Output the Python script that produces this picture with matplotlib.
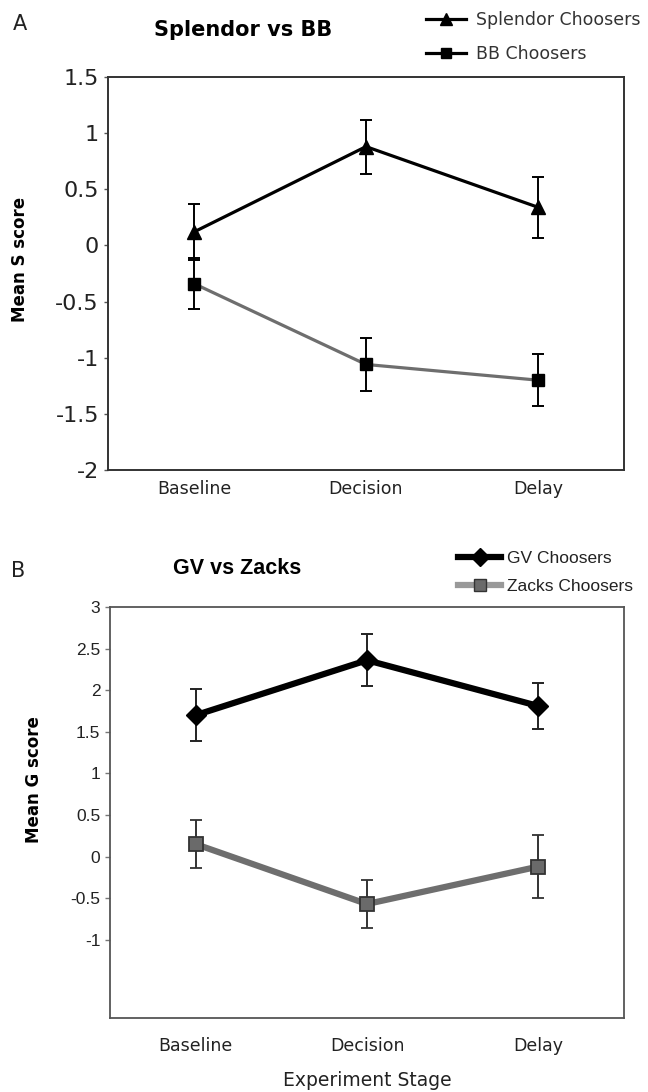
import numpy as np
import matplotlib
matplotlib.use("Agg")
from matplotlib import pyplot as plt
from matplotlib.lines import Line2D

stages = ["Baseline", "Decision", "Delay"]

# panel A: Splendor vs BB
splendor_mean = [0.12, 0.88, 0.34]
splendor_err = [0.25, 0.24, 0.27]
bb_mean = [-0.34, -1.06, -1.20]
bb_err = [0.23, 0.24, 0.23]
a_yticks = [1.5, 1, 0.5, 0, -0.5, -1, -1.5, -2]

# panel B: GV vs Zacks
gv_mean = [1.70, 2.36, 1.81]
gv_err = [0.31, 0.31, 0.28]
zacks_mean = [0.15, -0.57, -0.12]
zacks_err = [0.29, 0.29, 0.38]
b_yticks = [3, 2.5, 2, 1.5, 1, 0.5, 0, -0.5, -1]

W, H = 648.0, 1092.0
fig = plt.figure(figsize=(W / 100, H / 100), dpi=100)
x = np.arange(len(stages))

def fx(px):
    return px / W

def fy(py):
    return 1 - py / H

# ---- panel A ----
axA = fig.add_axes([fx(108), fy(470), fx(624) - fx(108), fy(77) - fy(470)])
axA.errorbar(x, splendor_mean, yerr=splendor_err, color="black", lw=2.3,
             marker="^", ms=10, ecolor="black", elinewidth=1.4, capsize=4, capthick=1.4, zorder=3)
axA.errorbar(x, bb_mean, yerr=bb_err, color="#6e6e6e", lw=2.3,
             marker="s", ms=9, mfc="black", mec="black", ecolor="black",
             elinewidth=1.4, capsize=4, capthick=1.4, zorder=3)
axA.set_xlim(-0.5, 2.5)
axA.set_ylim(-2, 1.5)
axA.set_yticks(a_yticks)
axA.set_yticklabels([("%g" % v) for v in a_yticks], fontsize=16, family="DejaVu Sans", color="#222222")
axA.tick_params(axis="y", length=3, width=1, pad=3.5, color="#555555")
axA.tick_params(axis="x", length=0, pad=7)
axA.set_xticks(x)
axA.set_xticklabels(stages, fontsize=12.5, family="DejaVu Sans", color="#222222")
for s in axA.spines.values():
    s.set_linewidth(1.4)
    s.set_color("#333333")

fig.text(fx(20), fy(259), "Mean S score", fontsize=12, fontweight="bold", rotation=90,
         ha="center", va="center")
fig.text(fx(20), fy(24), "A", fontsize=15, ha="center", va="center", color="#222222")
fig.text(fx(243), fy(30), "Splendor vs BB", fontsize=15, fontweight="bold", ha="center", va="center")

handlesA = [Line2D([], [], color="black", lw=2.3, marker="^", ms=9),
            Line2D([], [], color="black", lw=2.3, marker="s", ms=7)]
fig.legend(handlesA, ["Splendor Choosers", "BB Choosers"], loc="upper left",
           bbox_to_anchor=(fx(426), fy(11)), frameon=False, fontsize=12.5,
           borderpad=0, borderaxespad=0, handlelength=2.3, handletextpad=0.6,
           labelspacing=0.95, labelcolor="#333333")

# ---- panel B ----
axB = fig.add_axes([fx(110), fy(1018), fx(624) - fx(110), fy(607) - fy(1018)])
axB.errorbar(x, gv_mean, yerr=gv_err, color="black", lw=4.5,
             marker="D", ms=10, ecolor="#222222", elinewidth=1.4, capsize=4, capthick=1.4, zorder=3)
axB.errorbar(x, zacks_mean, yerr=zacks_err, color="#6e6e6e", lw=4.5,
             marker="s", ms=10, mfc="#6a6a6a", mec="#333333", mew=1.3, ecolor="#333333",
             elinewidth=1.4, capsize=4, capthick=1.4, zorder=3)
axB.set_xlim(-0.5, 2.5)
axB.set_ylim(-1.94, 3)
axB.set_yticks(b_yticks)
axB.set_yticklabels([("%g" % v) for v in b_yticks], fontsize=12.5, family="Liberation Sans", color="#222222")
axB.tick_params(axis="y", length=3.5, width=1, pad=3.5, color="#777777")
axB.tick_params(axis="x", length=0, pad=14)
axB.set_xticks(x)
axB.set_xticklabels(stages, fontsize=12.5, family="DejaVu Sans", color="#222222")
for s in axB.spines.values():
    s.set_linewidth(1.3)
    s.set_color("#555555")
axB.set_xlabel("Experiment Stage", fontsize=13.5, labelpad=11, color="#222222")

fig.text(fx(34), fy(780), "Mean G score", fontsize=12, fontweight="bold", rotation=90,
         ha="center", va="center")
fig.text(fx(18), fy(571), "B", fontsize=15, ha="center", va="center", color="#222222")
fig.text(fx(237), fy(569), "GV vs Zacks", fontsize=15.5, fontweight="bold", family="Liberation Sans",
         ha="center", va="center")

handlesB = [Line2D([], [], color="black", lw=4.5, marker="D", ms=9),
            Line2D([], [], color="#999999", lw=4.5, marker="s", ms=8, mfc="#6a6a6a", mec="#333333")]
fig.legend(handlesB, ["GV Choosers", "Zacks Choosers"], loc="upper left",
           bbox_to_anchor=(fx(458), fy(551)), frameon=False,
           prop={"family": "Liberation Sans", "size": 12.5},
           borderpad=0, borderaxespad=0, handlelength=2.5, handletextpad=0.35,
           labelspacing=0.72, labelcolor="#222222")

fig.savefig("out.png", dpi=100)
